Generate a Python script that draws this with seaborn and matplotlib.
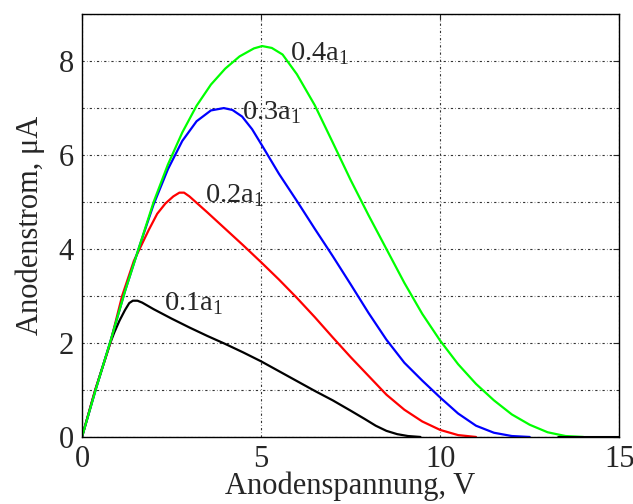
import numpy as np
import pandas as pd
import matplotlib.pyplot as plt
import seaborn as sns
from matplotlib.ticker import MultipleLocator

# Kurvendaten
x_01 = [0, 0.37, 0.79, 0.9, 1.05, 1.2, 1.32, 1.42, 1.55, 1.68, 2.0, 2.5, 3.0, 3.5,
        4.0, 4.5, 5.0, 5.5, 6.0, 6.5, 7.0, 7.5, 7.9, 8.2, 8.5, 8.8, 9.1, 9.45]
y_01 = [0, 1.0, 2.0, 2.22, 2.48, 2.7, 2.85, 2.9, 2.9, 2.86, 2.72, 2.52, 2.33, 2.15,
        1.98, 1.8, 1.61, 1.4, 1.19, 0.98, 0.78, 0.56, 0.38, 0.24, 0.13, 0.06, 0.02, 0.0]

x_02 = [0, 0.37, 0.79, 1.12, 1.45, 1.86, 2.1, 2.33, 2.55, 2.72, 2.85, 3.0, 3.5, 4.0,
        4.5, 5.0, 5.5, 6.0, 6.5, 7.0, 7.5, 8.0, 8.5, 9.0, 9.5, 10.0, 10.5, 11.0]
y_02 = [0, 1.0, 2.0, 3.0, 3.75, 4.4, 4.75, 4.97, 5.12, 5.2, 5.2, 5.12, 4.78, 4.43,
        4.08, 3.72, 3.35, 2.96, 2.55, 2.12, 1.7, 1.3, 0.9, 0.58, 0.33, 0.15, 0.04, 0.0]

x_03 = [0, 0.4, 0.8, 1.2, 1.6, 2.0, 2.4, 2.8, 3.2, 3.6, 3.96, 4.2, 4.47, 4.75,
        5.03, 5.5, 6.02, 6.5, 7.0, 7.5, 8.0, 8.5, 9.0, 9.5, 10.0, 10.5, 11.0,
        11.5, 12.0, 12.5]
y_03 = [0, 1.05, 2.05, 3.1, 4.05, 4.95, 5.7, 6.3, 6.72, 6.95, 7.0, 6.96, 6.82, 6.55,
        6.2, 5.6, 5.0, 4.43, 3.85, 3.25, 2.64, 2.07, 1.58, 1.2, 0.84, 0.5, 0.24,
        0.09, 0.02, 0.0]

x_04 = [0, 0.4, 0.8, 1.2, 1.6, 2.0, 2.4, 2.8, 3.2, 3.6, 4.0, 4.4, 4.8, 5.03,
        5.3, 5.6, 6.0, 6.5, 7.0, 7.5, 8.0, 8.5, 9.0, 9.5, 10.0, 10.5, 11.0, 11.5,
        12.0, 12.5, 13.0, 13.5, 14.0]
y_04 = [0, 1.05, 2.05, 3.1, 4.05, 5.0, 5.8, 6.48, 7.05, 7.5, 7.84, 8.1, 8.27, 8.32,
        8.28, 8.14, 7.72, 7.06, 6.27, 5.47, 4.72, 4.0, 3.28, 2.62, 2.05, 1.55, 1.13, 0.78,
        0.48, 0.26, 0.1, 0.02, 0.0]

# schwarzes Stueck am rechten Rand auf der Nulllinie
x_tail = [13.3, 15.0]
y_tail = [0.0, 0.0]

labels = ['0.1a$_1$', '0.2a$_1$', '0.3a$_1$', '0.4a$_1$']
label_x = [2.28, 3.44, 4.47, 5.81]
label_y = [2.84, 5.13, 6.9, 8.15]
colors = ['black', 'red', 'blue', '#00ff00']

sns.set_style("white")
plt.rcParams['font.family'] = ['Liberation Serif', 'DejaVu Serif']
plt.rcParams['mathtext.fontset'] = 'custom'
plt.rcParams['mathtext.rm'] = 'Liberation Serif'

fig = plt.figure(figsize=(6.33, 5.04), dpi=100)
ax = fig.add_axes([0.1295, 0.133, 0.8488, 0.839])

curves = [(x_01, y_01), (x_02, y_02), (x_03, y_03), (x_04, y_04)]
for (xs, ys), c in zip(curves, colors):
    sns.lineplot(x=xs, y=ys, color=c, lw=1.6, estimator=None, sort=False, ax=ax)
sns.lineplot(x=x_tail, y=y_tail, color='black', lw=2.2, estimator=None, ax=ax)

for t, tx, ty in zip(labels, label_x, label_y):
    ax.text(tx, ty, t, fontsize=20.5, ha='left', va='center')

ax.set_xlim(0, 15)
ax.set_ylim(0, 9)
ax.xaxis.set_major_locator(MultipleLocator(5))
ax.yaxis.set_major_locator(MultipleLocator(2))
ax.yaxis.set_minor_locator(MultipleLocator(1))

ax.grid(True, which='both', color='0.2', lw=0.8, ls=(0, (2, 2, 0.5, 2)))
ax.tick_params(which='both', direction='in', top=True, right=True, labelsize=22)
ax.tick_params(which='major', length=4, pad=6)
ax.tick_params(which='minor', length=2)
for s in ax.spines.values():
    s.set_color('black')
    s.set_linewidth(1.0)

ax.set_xlabel('Anodenspannung, V', fontsize=22, labelpad=-2)
ax.set_ylabel('Anodenstrom, μA', fontsize=22, labelpad=10)

fig.savefig('out.png', dpi=100)
